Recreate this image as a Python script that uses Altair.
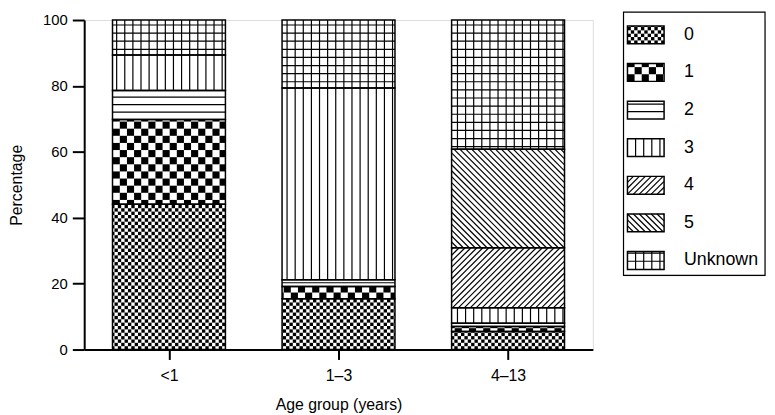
import math
import json
import altair as alt
import pandas as pd

# ---------------- data ----------------
categories = ["<1", "1–3", "4–13"]
levels = ["0", "1", "2", "3", "4", "5", "Unknown"]
pct_0 = [44.1, 15.4, 5.5]
pct_1 = [25.7, 3.7, 1.5]
pct_2 = [8.8, 2.1, 1.0]
pct_3 = [10.8, 58.2, 4.7]
pct_4 = [0.0, 0.0, 18.2]
pct_5 = [0.0, 0.0, 29.9]
pct_unknown = [10.6, 20.6, 39.2]
series = [pct_0, pct_1, pct_2, pct_3, pct_4, pct_5, pct_unknown]

# ---------------- styling ----------------
FONT = "Liberation Sans"
PATTERNS = {
    "0": ("checker", 3.4),
    "1": ("checker", 7.2),
    "2": ("h", 7.5),
    "3": ("v", 8.2),
    "4": ("up", 6.0),
    "5": ("down", 6.0),
    "Unknown": ("grid", 8.2),
}
W, H = 514, 333
X_DOM = [0.5, 3.5]
PX_X = W / (X_DOM[1] - X_DOM[0])
PX_Y = H / 100.0
BAR_W = 0.666

LH = 266                   # legend box height
OVER = 8                   # part of legend box drawn above the plot top
LW = 143                   # legend box width
SW_X0, SW_X1 = 4, 41       # swatch extent inside legend
SW_H = 18
ROW0, ROW_STEP = 23, 38
LABEL_X = 61


def pattern(kind, step, x0, x1, y0, y1, ox=0.0, oy=0.0):
    """Pattern geometry in pixel space (y up) clipped to rectangle."""
    rects, lines = [], []
    if kind == "checker":
        i0 = math.floor((x0 - ox) / step)
        i1 = math.ceil((x1 - ox) / step)
        j0 = math.floor((y0 - oy) / step)
        j1 = math.ceil((y1 - oy) / step)
        for i in range(i0, i1):
            for j in range(j0, j1):
                if (i + j) % 2 == 0:
                    ax, bx = max(x0, ox + i * step), min(x1, ox + (i + 1) * step)
                    ay, by = max(y0, oy + j * step), min(y1, oy + (j + 1) * step)
                    if bx > ax and by > ay:
                        rects.append((ax, bx, ay, by))
    if kind in ("h", "grid"):
        for k in range(math.ceil((y0 - oy) / step), math.floor((y1 - oy) / step) + 1):
            y = oy + k * step
            if y0 + 0.8 < y < y1 - 0.8:
                lines.append((x0, x1, y, y))
    if kind in ("v", "grid"):
        for k in range(math.ceil((x0 - ox) / step), math.floor((x1 - ox) / step) + 1):
            x = ox + k * step
            if x0 + 0.8 < x < x1 - 0.8:
                lines.append((x, x, y0, y1))
    if kind == "up":
        c_lo, c_hi = y0 - x1, y1 - x0
        for k in range(math.ceil(c_lo / step), math.floor(c_hi / step) + 1):
            c = k * step
            xa, xb = max(x0, y0 - c), min(x1, y1 - c)
            if xb - xa > 0.3:
                lines.append((xa, xb, xa + c, xb + c))
    if kind == "down":
        c_lo, c_hi = y0 + x0, y1 + x1
        for k in range(math.ceil(c_lo / step), math.floor(c_hi / step) + 1):
            c = k * step
            xa, xb = max(x0, c - y1), min(x1, c - y0)
            if xb - xa > 0.3:
                lines.append((xa, xb, c - xa, c - xb))
    return rects, lines


# ---------------- main panel data ----------------
seg_rows, sq_rows, line_rows = [], [], []
for ci, cat in enumerate(categories):
    center = ci + 1
    bottom = 0.0
    for lev, vals in zip(levels, series):
        v = vals[ci]
        if v <= 0:
            continue
        top = bottom + v
        xa, xb = center - BAR_W / 2, center + BAR_W / 2
        seg_rows.append({"x": xa, "x2": xb, "y": bottom, "y2": top, "level": lev, "cat": cat})
        kind, step = PATTERNS[lev]
        px0, px1 = (xa - X_DOM[0]) * PX_X, (xb - X_DOM[0]) * PX_X
        py0, py1 = bottom * PX_Y, top * PX_Y
        rects, lines = pattern(kind, step, px0, px1, py0, py1)
        for (a, b, c, d) in rects:
            sq_rows.append({"x": X_DOM[0] + a / PX_X, "x2": X_DOM[0] + b / PX_X,
                            "y": c / PX_Y, "y2": d / PX_Y})
        for (a, b, c, d) in lines:
            line_rows.append({"x": X_DOM[0] + a / PX_X, "x2": X_DOM[0] + b / PX_X,
                              "y": c / PX_Y, "y2": d / PX_Y})
        bottom = top

seg_df = pd.DataFrame(seg_rows)
sq_df = pd.DataFrame(sq_rows)
line_df = pd.DataFrame(line_rows)

label_expr = "%s[datum.value - 1]" % json.dumps(categories, ensure_ascii=False)

x_enc = alt.X(
    "x:Q",
    scale=alt.Scale(domain=X_DOM, nice=False, zero=False),
    axis=alt.Axis(
        values=[1, 2, 3], labelExpr=label_expr, title="Age group (years)",
        grid=False, tickSize=10, tickWidth=2, tickColor="black",
        domainWidth=2, domainColor="black", labelFontSize=16, labelColor="black",
        labelPadding=8, titleFontSize=16, titleFontWeight="normal", titleColor="black",
        titlePadding=14, labelFont=FONT, titleFont=FONT,
    ),
)
y_enc = alt.Y(
    "y:Q",
    scale=alt.Scale(domain=[0, 100], nice=False),
    axis=alt.Axis(
        values=[0, 20, 40, 60, 80, 100], title="Percentage", grid=False,
        tickSize=12, tickWidth=2, tickColor="black", domainWidth=2, domainColor="black",
        labelFontSize=15, labelColor="black", labelPadding=5,
        titleFontSize=16, titleFontWeight="normal", titleColor="black", titlePadding=18,
        labelFont=FONT, titleFont=FONT,
    ),
)

base_fill = alt.Chart(seg_df).mark_rect(fill="white", strokeWidth=0).encode(
    x=x_enc, x2="x2:Q", y=y_enc, y2="y2:Q")
squares = alt.Chart(sq_df).mark_rect(fill="black", strokeWidth=0).encode(
    x=x_enc, x2="x2:Q", y=y_enc, y2="y2:Q")
hatch = alt.Chart(line_df).mark_rule(color="black", strokeWidth=1.2).encode(
    x=x_enc, x2="x2:Q", y=y_enc, y2="y2:Q")
outline = alt.Chart(seg_df).mark_rect(fill="white", fillOpacity=0, stroke="black",
                                      strokeWidth=1.5).encode(
    x=x_enc, x2="x2:Q", y=y_enc, y2="y2:Q")

main = alt.layer(base_fill, squares, hatch, outline).properties(width=W, height=H)

# ---------------- legend panel ----------------
lsw_rows, lsq_rows, lline_rows, ltxt_rows = [], [], [], []
for i, lev in enumerate(levels):
    cy = LH - (ROW0 + i * ROW_STEP)
    y0, y1 = cy - SW_H / 2, cy + SW_H / 2
    lsw_rows.append({"x": SW_X0, "x2": SW_X1, "y": y0, "y2": y1})
    kind, step = PATTERNS[lev]
    rects, lines = pattern(kind, step, SW_X0, SW_X1, y0, y1, ox=SW_X0, oy=y0)
    for (a, b, c, d) in rects:
        lsq_rows.append({"x": a, "x2": b, "y": c, "y2": d})
    for (a, b, c, d) in lines:
        lline_rows.append({"x": a, "x2": b, "y": c, "y2": d})
    ltxt_rows.append({"x": LABEL_X, "y": cy, "label": lev})

LHV = LH - OVER
lx = alt.X("x:Q", scale=alt.Scale(domain=[0, LW], nice=False, zero=False), axis=None)
ly = alt.Y("y:Q", scale=alt.Scale(domain=[0, LHV], nice=False, zero=False), axis=None)

frame = alt.Chart(pd.DataFrame([{"x": 0, "x2": LW, "y": 0, "y2": LH}])).mark_rect(
    fill="white", stroke="black", strokeWidth=1.2).encode(x=lx, x2="x2:Q", y=ly, y2="y2:Q")
l_fill = alt.Chart(pd.DataFrame(lsw_rows)).mark_rect(fill="white", strokeWidth=0).encode(
    x=lx, x2="x2:Q", y=ly, y2="y2:Q")
l_sq = alt.Chart(pd.DataFrame(lsq_rows)).mark_rect(fill="black", strokeWidth=0).encode(
    x=lx, x2="x2:Q", y=ly, y2="y2:Q")
l_lines = alt.Chart(pd.DataFrame(lline_rows)).mark_rule(color="black", strokeWidth=1.2).encode(
    x=lx, x2="x2:Q", y=ly, y2="y2:Q")
l_out = alt.Chart(pd.DataFrame(lsw_rows)).mark_rect(fill="white", fillOpacity=0,
                                                    stroke="black", strokeWidth=1.5).encode(
    x=lx, x2="x2:Q", y=ly, y2="y2:Q")
l_txt = alt.Chart(pd.DataFrame(ltxt_rows)).mark_text(
    align="left", baseline="middle", fontSize=18, font=FONT, color="black").encode(
    x=lx, y=ly, text="label:N")

legend = alt.layer(frame, l_fill, l_sq, l_lines, l_out, l_txt).properties(width=LW, height=LHV)

chart = alt.hconcat(main, legend, spacing=28).properties(
    padding={"left": 0, "top": 0, "right": 0, "bottom": 0}
).configure_view(stroke=None).configure(font=FONT)

chart.save("out.html", embed_options={"renderer": "svg", "actions": False})
